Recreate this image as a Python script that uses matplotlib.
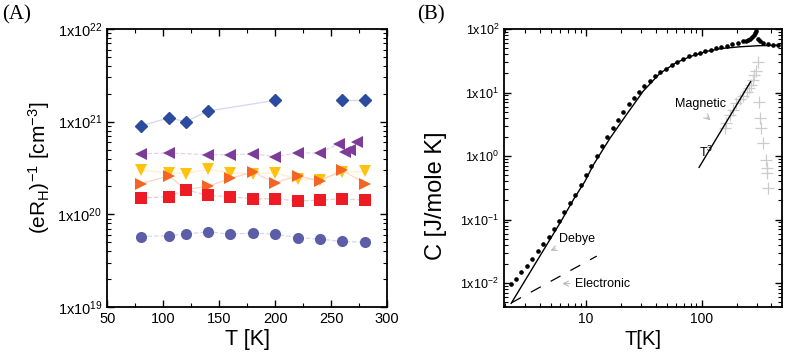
import numpy as np
import matplotlib
matplotlib.use("Agg")
import matplotlib.pyplot as plt
from matplotlib.ticker import LogLocator, MultipleLocator, NullFormatter, FixedLocator

plt.rcParams['font.family'] = ['Liberation Sans', 'DejaVu Sans']
plt.rcParams['mathtext.default'] = 'regular'

# ---------------- Panel A data ----------------
T_all = [80, 105, 120, 140, 160, 180, 200, 220, 240, 260, 280]
T_dia = [80, 105, 120, 140, 200, 260, 280]
n_dia = [9.0e20, 1.1e21, 1.0e21, 1.3e21, 1.7e21, 1.7e21, 1.7e21]
T_left = [80, 105, 140, 160, 180, 200, 220, 240, 257, 262, 267, 273]
n_left = [4.5e20, 4.6e20, 4.4e20, 4.4e20, 4.5e20, 4.2e20, 4.6e20, 4.6e20, 5.8e20, 4.7e20, 5.0e20, 6.1e20]
n_down = [3.0e20, 2.8e20, 2.75e20, 3.05e20, 2.8e20, 2.75e20, 2.8e20, 2.4e20, 2.35e20, 2.85e20, 2.9e20]
n_right = [2.15e20, 2.6e20, 1.85e20, 2.0e20, 2.45e20, 2.85e20, 2.2e20, 2.6e20, 2.3e20, 3.0e20, 2.15e20]
n_sq = [1.5e20, 1.55e20, 1.85e20, 1.6e20, 1.55e20, 1.47e20, 1.47e20, 1.4e20, 1.42e20, 1.48e20, 1.42e20]
n_circ = [5.75e19, 5.9e19, 6.1e19, 6.5e19, 6.1e19, 6.3e19, 6.1e19, 5.6e19, 5.4e19, 5.1e19, 5.0e19]

A_xticks = [50, 100, 150, 200, 250, 300]
A_yticks = [1e19, 1e20, 1e21, 1e22]
A_ylabels = ['1x10$^{19}$', '1x10$^{20}$', '1x10$^{21}$', '1x10$^{22}$']

# ---------------- Panel B data ----------------
T_dots = [2.26, 2.49, 2.77, 3.08, 3.42, 3.83, 4.23, 4.77, 5.27, 5.85, 6.50, 7.28, 8.12, 9.02,
          10.0, 11.1, 12.4, 13.7, 15.3, 17.0, 19.0, 21.0, 23.3, 25.9, 28.8, 32.0, 35.6, 39.6,
          44.0, 49.4, 55.5, 61.7, 69.0, 77.7, 87.0, 96.1, 107.7, 120.3, 133.9, 147.9, 165.3,
          184, 205.7, 227, 239, 249, 259, 270, 281, 289, 295, 305, 316, 338, 373, 412, 455]
C_dots = [0.00975, 0.01156, 0.01475, 0.01853, 0.0239, 0.0316, 0.0411, 0.0536, 0.0708, 0.0957,
          0.130, 0.180, 0.248, 0.349, 0.502, 0.696, 1.0, 1.44, 1.99, 2.76, 3.69, 4.93, 6.52,
          8.28, 10.2, 12.8, 15.2, 18.4, 20.8, 23.9, 27.4, 30.2, 33.3, 37.2, 40.0, 42.4, 45.1,
          47.2, 50.2, 51.5, 54.0, 57.4, 60.2, 64.0, 65.9, 68.3, 70.8, 74.8, 80.5, 86.5, 93.0,
          70.3, 64.7, 60.8, 58.0, 56.6, 56.0]
T_debye = [2.26, 4.0, 6.0, 7.78, 9.8, 11.56, 16.1, 22.4, 31.2, 43.4, 60, 80, 110, 150, 213, 300, 450]
C_debye = [0.00479, 0.0266, 0.0896, 0.205, 0.40, 0.72, 1.9, 4.5, 10.5, 20.0, 29.5, 37.0, 44.5,
           49.5, 52.5, 54.5, 55.5]
T_elec = [2.26, 12.4]
C_elec = [0.00486, 0.0266]
T_cube = [94.8, 264]
C_cube = [0.664, 14.8]
T_mag = [157.7, 163, 174, 186, 199, 213, 227, 246, 256, 268, 277, 282, 292, 306,
         312, 321, 327, 339, 356, 363, 368, 374]
C_mag = [2.73, 3.31, 4.43, 5.3, 6.84, 7.9, 8.8, 10.3, 11.6, 13.1, 15.7, 18.9, 22.2, 30.5,
         7.08, 4.04, 2.73, 1.60, 0.865, 0.66, 0.534, 0.31]
B_yticks = [1e-2, 1e-1, 1e0, 1e1, 1e2]
B_ylabels = ['1x10$^{-2}$', '1x10$^{-1}$', '1x10$^{0}$', '1x10$^{1}$', '1x10$^{2}$']

fig = plt.figure(figsize=(8, 3.61), dpi=100)
axA = fig.add_axes([0.134, 0.1496, 0.350, 0.770])
axB = fig.add_axes([0.630, 0.1496, 0.3475, 0.770])

def style(ax):
    for s in ax.spines.values():
        s.set_linewidth(1.3)
    ax.tick_params(which='both', direction='in', top=True, right=True, width=1.0)
    ax.tick_params(which='major', length=5)
    ax.tick_params(which='minor', length=3, width=0.8)

# ---------- Panel A ----------
c_dia, c_left, c_down = '#2B4C9E', '#7D3C98', '#FFC20E'
c_right, c_sq, c_circ = '#F26522', '#ED1C24', '#5B5EA6'
axA.plot(T_dia[:5], n_dia[:5], '-', color='#d4d6ee', lw=0.9, zorder=1)
axA.plot(T_dia[5:], n_dia[5:], '-', color='#d4d6ee', lw=0.9, zorder=1)
axA.plot(T_dia, n_dia, 'D', color=c_dia, ms=6.5, ls='none', zorder=3)
axA.plot(T_left, n_left, '--', color='#e2d3ea', lw=0.9, zorder=1)
axA.plot(T_left, n_left, '<', color=c_left, ms=8, ls='none', zorder=3, markeredgewidth=0)
axA.plot(T_all, n_down, '-', color='#ffefc4', lw=0.9, zorder=1)
axA.plot(T_all, n_down, 'v', color=c_down, ms=8, ls='none', zorder=3, markeredgewidth=0)
axA.plot(T_all, n_right, '-', color='#fbd5c4', lw=0.9, zorder=1)
axA.plot(T_all, n_right, '>', color=c_right, ms=8, ls='none', zorder=3, markeredgewidth=0)
axA.plot(T_all, n_sq, '--', color='#f8c8cc', lw=0.9, zorder=1)
axA.plot(T_all, n_sq, 's', color=c_sq, ms=8, ls='none', zorder=3, markeredgewidth=0)
axA.plot(T_all, n_circ, '--', color='#d6d7ee', lw=0.9, zorder=1)
axA.plot(T_all, n_circ, 'o', color=c_circ, ms=8, ls='none', zorder=3, markeredgewidth=0)

axA.set_yscale('log')
axA.set_xlim(50, 300)
axA.set_ylim(1e19, 1e22)
axA.set_xticks(A_xticks)
axA.xaxis.set_minor_locator(MultipleLocator(25))
axA.set_yticks(A_yticks)
axA.set_yticklabels(A_ylabels)
axA.yaxis.set_minor_locator(LogLocator(base=10, subs=np.arange(2, 10)))
axA.yaxis.set_minor_formatter(NullFormatter())
style(axA)
axA.tick_params(labelsize=10.5)
axA.set_xlabel('T [K]', fontsize=15.5, labelpad=2)
axA.set_ylabel('(eR$_H$)$^{-1}$ [cm$^{-3}$]', fontsize=15, labelpad=4)

# ---------- Panel B ----------
axB.plot(T_mag, C_mag, '+', color='#cccccc', ms=8.5, mew=0.9, ls='none', zorder=1)
axB.plot(T_debye, C_debye, '-', color='black', lw=1.0, zorder=2)
axB.plot(T_elec, C_elec, color='black', lw=0.9, dashes=(9, 9), zorder=2)
axB.plot(T_cube, C_cube, '-', color='black', lw=1.0, zorder=2)
axB.plot(T_dots, C_dots, 'o', color='black', ms=2.3, ls='none', zorder=3)

axB.set_xscale('log')
axB.set_yscale('log')
axB.set_xlim(1.96, 493)
axB.set_ylim(4.2e-3, 100)
axB.xaxis.set_major_locator(FixedLocator([10, 100]))
axB.xaxis.set_minor_locator(LogLocator(base=10, subs=np.arange(2, 10)))
axB.xaxis.set_minor_formatter(NullFormatter())
axB.set_xticklabels(['10', '100'])
axB.set_yticks(B_yticks)
axB.set_yticklabels(B_ylabels)
axB.yaxis.set_minor_locator(LogLocator(base=10, subs=np.arange(2, 10)))
axB.yaxis.set_minor_formatter(NullFormatter())
style(axB)
axB.tick_params(axis='y', labelsize=9)
axB.tick_params(axis='x', labelsize=10)
axB.set_xlabel('T[K]', fontsize=14.5, labelpad=3)
axB.set_ylabel('C [J/mole K]', fontsize=17, labelpad=3)
axB.yaxis.set_label_coords(-0.205, 0.40)

arrow = dict(arrowstyle='->', color='#bbbbbb', lw=0.8)
axB.annotate('Debye', xy=(4.7, 0.031), xytext=(5.9, 0.05), fontsize=9,
             va='center', ha='left', arrowprops=arrow)
axB.annotate('Electronic', xy=(5.9, 0.0098), xytext=(8.1, 0.0098), fontsize=9,
             va='center', ha='left', arrowprops=arrow)
axB.text(58.5, 6.6, 'Magnetic', fontsize=9, va='center', ha='left')
axB.annotate('', xy=(124, 3.4), xytext=(106, 4.45), arrowprops=arrow)
axB.text(94, 1.15, 'T$^3$', fontsize=9, va='center', ha='left')

fig.text(0.003, 0.985, '(A)', family=['Liberation Serif', 'DejaVu Serif'], fontsize=15, va='top')
fig.text(0.521, 0.985, '(B)', family=['Liberation Serif', 'DejaVu Serif'], fontsize=15, va='top')

fig.savefig('out.png', dpi=100)
